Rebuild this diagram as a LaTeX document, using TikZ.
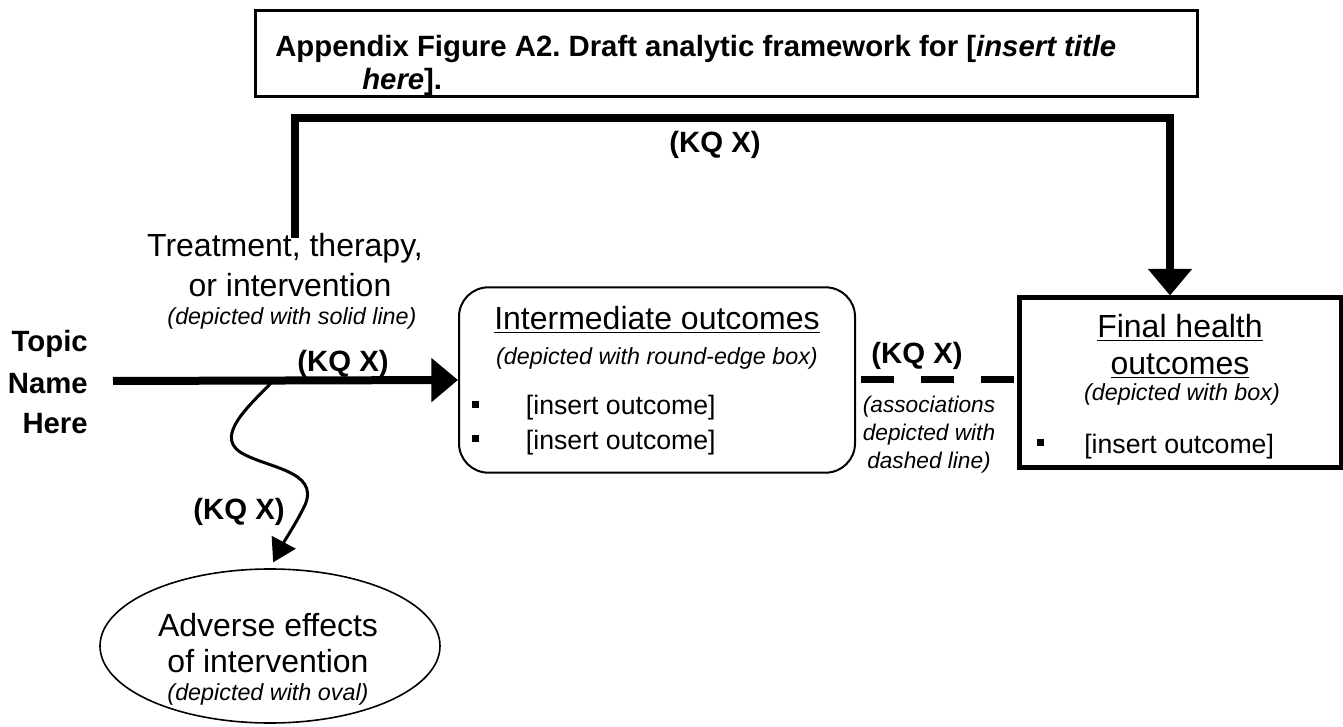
\documentclass[tikz,border=0pt]{standalone}
\usepackage{fontspec}
\setmainfont{Liberation Sans}
\usetikzlibrary{arrows.meta, shapes.geometric}
\frenchspacing

\begin{document}
\begin{tikzpicture}[x=0.75pt, y=-0.75pt,
		kq/.style={inner sep=0pt, font=\bfseries\fontsize{22}{26}\selectfont},
		big/.style={inner sep=0pt, font=\fontsize{24}{29}\selectfont},
		item/.style={inner sep=0pt, font=\fontsize{20}{24}\selectfont},
		note/.style={inner sep=0pt, font=\itshape\fontsize{17.5}{21}\selectfont},
		flow/.style={line width=6pt, -{Triangle[length=20pt, width=32pt]}}]
		\useasboundingbox (0,0) rectangle (1343,727);

		% Draw the title box
		\node[draw, line width=2.25pt, minimum width=707pt, minimum height=65pt] (title) at (726.5,53.5) {};
		\node[kq, anchor=base west] (titleA) at (275,57) {Appendix Figure A2. Draft analytic framework for [\textit{insert title}};
		\node[kq, anchor=base west] (titleB) at (362,90) {\textit{here}].};

		% Draw the outcome boxes
		\node[draw, line width=1.5pt, rounded corners=22pt, minimum width=297pt, minimum height=139pt] (inter) at (657,380) {};
		\node[draw, line width=3.75pt, minimum width=241.5pt, minimum height=126.75pt] (final) at (1180,382.5) {};
		\node[draw, ellipse, line width=1.2pt, minimum width=255pt, minimum height=115.5pt] (adverse) at (270,646) {};

		% Texts of the boxes
		\node[big, anchor=base] (interA) at (657,330) {\underline{Intermediate outcomes}};
		\node[note, anchor=base] (interB) at (657,364) {(depicted with round-edge box)};
		\node[item, anchor=base west] (interC) at (472,415) {\rule[5pt]{5.25pt}{5.25pt}\hspace{35pt}[insert outcome]};
		\node[item, anchor=base west] (interD) at (472,449) {\rule[5pt]{5.25pt}{5.25pt}\hspace{35pt}[insert outcome]};

		\node[big, anchor=base] (finalA) at (1180,338) {\underline{Final health}};
		\node[big, anchor=base] (finalB) at (1180,375) {\underline{outcomes}};
		\node[note, anchor=base] (finalC) at (1182,401) {(depicted with box)};
		\node[item, anchor=base west] (finalD) at (1037,453) {\rule[5pt]{5.25pt}{5.25pt}\hspace{30pt}[insert outcome]};

		\node[big, anchor=base] (adverseA) at (268,636) {Adverse effects};
		\node[big, anchor=base] (adverseB) at (268,672) {of intervention};
		\node[note, anchor=base] (adverseC) at (268,700) {(depicted with oval)};

		% Topic and treatment
		\node[kq, anchor=base east] (topicA) at (88,352) {Topic};
		\node[kq, anchor=base east] (topicB) at (88,393) {Name};
		\node[kq, anchor=base east] (topicC) at (88,433) {Here};

		\node[big, anchor=base] (treatA) at (285,257) {Treatment, therapy,};
		\node[big, anchor=base] (treatB) at (290,297) {or intervention};
		\node[note, anchor=base] (treatC) at (292,325) {(depicted with solid line)};

		\coordinate (start) at (113,381);
		\coordinate (fork) at (273,381);
		\coordinate (branch) at (295,238);
		\coordinate (bend) at (1170,118);

		% Draw the arrows
		\draw[flow] (start) -- (inter.west);
		\draw[flow] (branch) |- (bend) -- (bend |- final.north);
		\draw[line width=5.25pt, dash pattern=on 24.75pt off 20.25pt, dash phase=41.25pt] (inter.east) -- (inter.east -| final.west);
		\draw[line width=2.25pt, -{Triangle[length=17pt, width=20pt]}, shorten >=5pt]
			(fork) .. controls (250,405) and (215,435) .. (240,452)
			.. controls (265,468) and (320,470) .. (305,505)
			.. controls (298,520) and (285,540) .. (adverse.north);

		% Key question labels
		\node[kq] (kqA) at (715,145) {(KQ X)};
		\node[kq, anchor=base] (kqB) at (343,372) {(KQ X)};
		\node[kq] (kqC) at (917,356) {(KQ X)};
		\node[kq] (kqD) at (239,512) {(KQ X)};

		\node[note, font=\itshape\fontsize{17}{21}\selectfont, align=center] (assoc) at (929,435) {(associations\\depicted with\\dashed line)};

	\end{tikzpicture}
\end{document}
